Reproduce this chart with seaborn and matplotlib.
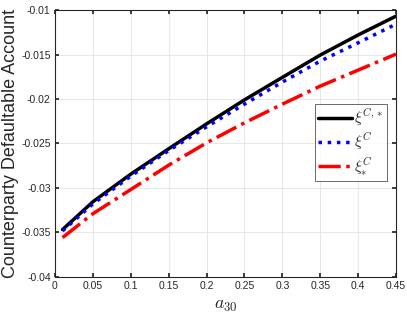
import matplotlib
matplotlib.use("Agg")
import matplotlib.pyplot as plt
import seaborn as sns
import pandas as pd

x = [0.01, 0.05, 0.10, 0.15, 0.20, 0.25, 0.30, 0.35, 0.40, 0.45]
xi_c_star = [-0.03468, -0.03156, -0.02845, -0.0256, -0.0228, -0.0201, -0.01757, -0.01506, -0.0128, -0.01068]
xi_c = [-0.03483, -0.0318, -0.02868, -0.0258, -0.02313, -0.02058, -0.0181, -0.01574, -0.01368, -0.01158]
xi_star_c = [-0.03558, -0.0329, -0.03018, -0.02744, -0.02493, -0.02268, -0.02058, -0.01855, -0.01675, -0.01495]
labels = [r"$\xi^{C,*}$", r"$\xi^{C}$", r"$\xi^{C}_{*}$"]

sns.set_theme(style="whitegrid")
plt.rcParams['font.family'] = ['Liberation Sans', 'DejaVu Sans']
plt.rcParams['mathtext.fontset'] = 'cm'

df = pd.DataFrame({
    "x": x * 3,
    "y": xi_c_star + xi_c + xi_star_c,
    "s": [labels[0]] * len(x) + [labels[1]] * len(x) + [labels[2]] * len(x),
})

fig, ax = plt.subplots(figsize=(4.07, 3.15), dpi=100)
fig.subplots_adjust(left=0.135, right=0.973, top=0.968, bottom=0.121)

colors = ["#000000", "#0000ff", "#ff0000"]
styles = ["-", ":", "-."]
for lab, c, ls in zip(labels, colors, styles):
    sub = df[df["s"] == lab]
    sns.lineplot(data=sub, x="x", y="y", ax=ax, color=c, linestyle=ls, linewidth=2.5, label=lab)

ax.set_xlim(0, 0.45)
ax.set_ylim(-0.04, -0.01)
ax.set_xticks([0, 0.05, 0.1, 0.15, 0.2, 0.25, 0.3, 0.35, 0.4, 0.45])
ax.set_xticklabels(["0", "0.05", "0.1", "0.15", "0.2", "0.25", "0.3", "0.35", "0.4", "0.45"])
ax.set_yticks([-0.04, -0.035, -0.03, -0.025, -0.02, -0.015, -0.01])
ax.set_yticklabels(["-0.04", "-0.035", "-0.03", "-0.025", "-0.02", "-0.015", "-0.01"])
ax.tick_params(axis="both", direction="in", length=3, labelsize=7.5, colors="#262626",
               top=True, right=True, bottom=True, left=True, pad=3)
ax.grid(True, color="#e3e3e3", linewidth=0.6)
for sp in ax.spines.values():
    sp.set_color("#262626")
    sp.set_linewidth(0.8)
ax.set_facecolor("white")
ax.set_xlabel(r"$a_{30}$", fontsize=13, color="#262626", labelpad=4)
ax.set_ylabel("Counterparty Defaultable Account", fontsize=13, color="#262626", labelpad=2)

leg = ax.legend(loc="center right", bbox_to_anchor=(0.982, 0.505), fontsize=11, frameon=True,
                fancybox=False, edgecolor="#262626", handlelength=2.2, borderpad=0.2,
                labelspacing=0.2, handletextpad=0.15, borderaxespad=0.2)
leg.get_frame().set_linewidth(0.6)

fig.savefig("out.png", dpi=100)
